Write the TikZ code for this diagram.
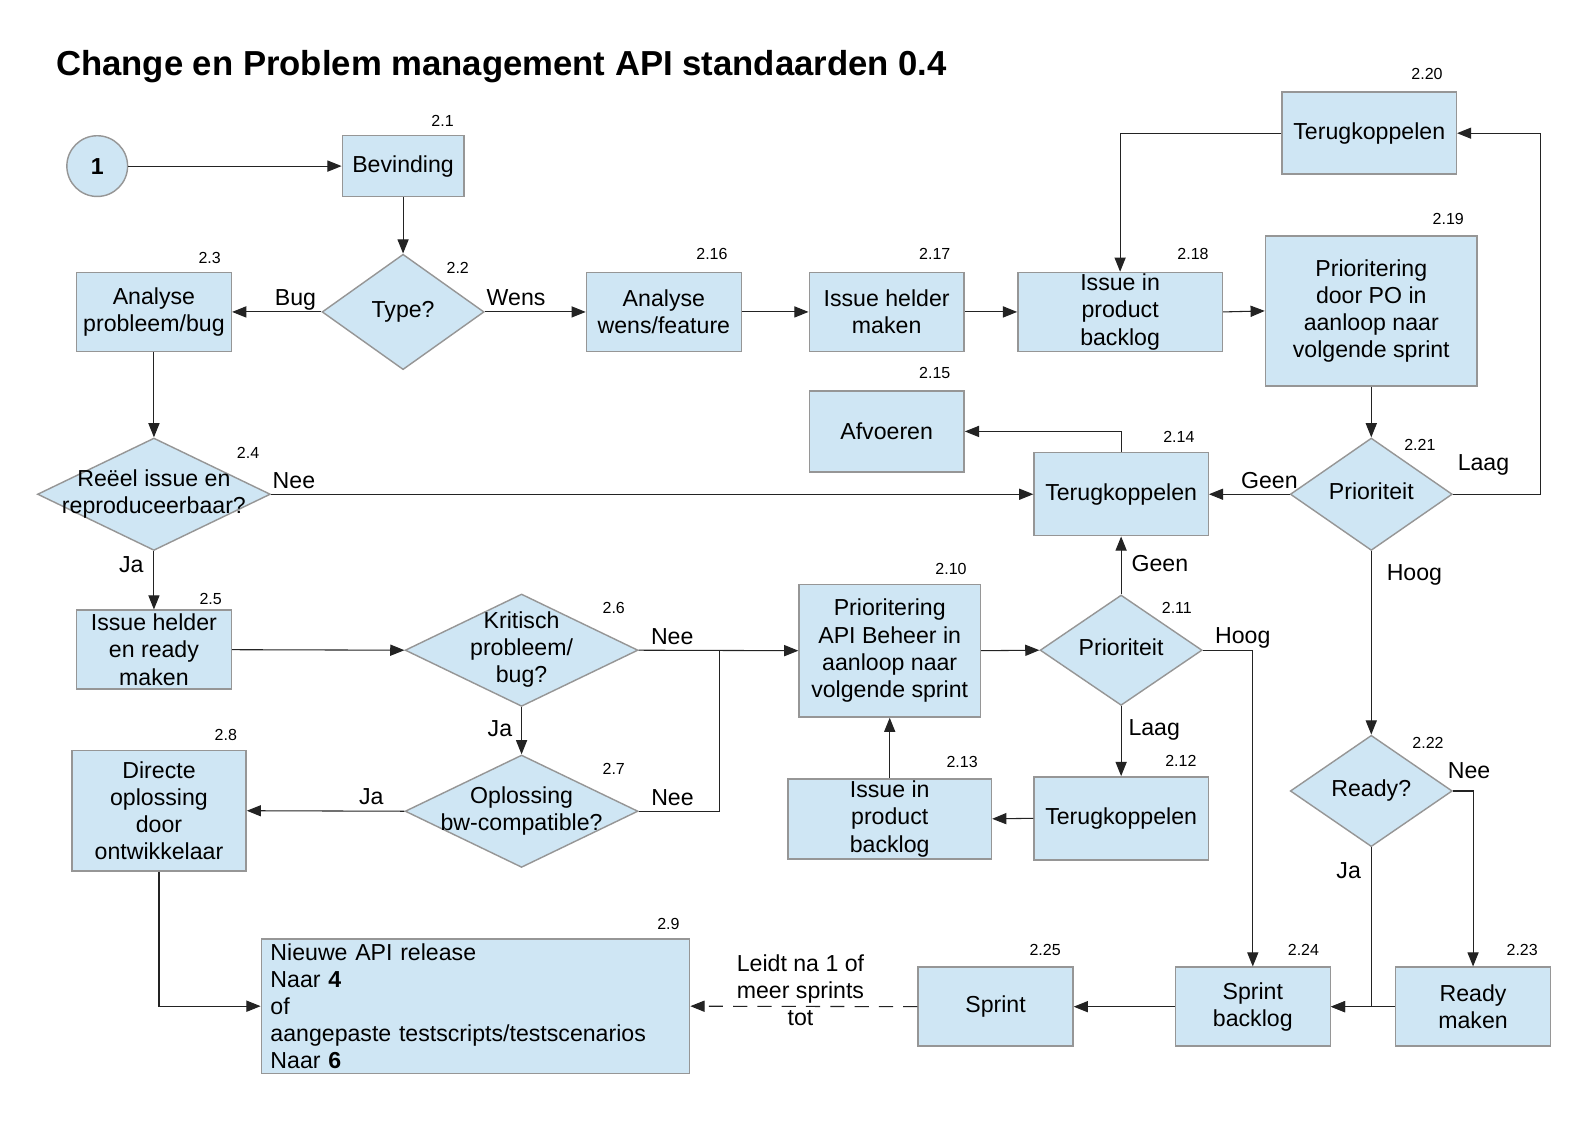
\documentclass[tikz,border=0pt]{standalone}
\usepackage{fontspec}
\setmainfont{Liberation Sans}
\usetikzlibrary{arrows.meta, shapes.geometric}
\definecolor{stepfill}{RGB}{207, 230, 244}
\definecolor{stepline}{RGB}{150, 150, 150}
\definecolor{flowline}{RGB}{35, 35, 35}
\newcommand{\dectext}[1]{\makebox[0pt]{\begin{tabular}{@{}c@{}}#1\end{tabular}}}

\begin{document}
\begin{tikzpicture}[x=0.02cm, y=-0.02cm,
    every node/.style={font=\fontsize{13}{15.3}\selectfont},
    arrow/.style={-{Triangle[length=0.28cm, width=0.22cm]}, line width=0.6pt, draw=flowline},
    line/.style={line width=0.6pt, draw=flowline},
    procbox/.style={rectangle, draw=stepline, fill=stepfill, line width=0.8pt,
        inner sep=0pt, align=center, minimum width=3.06cm, minimum height=1.56cm},
    fbbox/.style={procbox, minimum width=3.44cm, minimum height=1.64cm},
    decision/.style={diamond, draw=stepline, fill=stepfill, line width=0.8pt,
        inner sep=0pt, minimum width=4.6cm, minimum height=2.22cm},
    smalldec/.style={decision, minimum width=3.2cm, minimum height=2.2cm},
    startnode/.style={circle, draw=stepline, fill=stepfill, line width=0.8pt,
        minimum size=1.2cm, inner sep=0pt, font=\fontsize{13}{15}\selectfont\bfseries},
    num/.style={font=\fontsize{9}{10}\selectfont, inner sep=0pt},
    lbl/.style={inner sep=1pt, text depth=0.22em}
]
\useasboundingbox (0,0) rectangle (1568,1109);

% === Title ===
\node[anchor=base west, inner sep=0pt, font=\fontsize{19.5}{23}\selectfont\bfseries] (title) at (55,75)
    {Change en Problem management API standaarden 0.4};

% === Bug branch (left) ===
\node[startnode] (start) at (96,164) {1};
\node[procbox, minimum width=2.4cm, minimum height=1.2cm] (bev) at (398,164) {Bevinding};
\node[smalldec, minimum height=2.28cm] (type) at (398,308) {\dectext{Type?}};
\node[procbox] (ana3) at (152,308) {Analyse\\probleem/bug};
\node[decision] (reel) at (152,488) {\dectext{Reëel issue en\\reproduceerbaar?}};
\node[procbox] (ir5) at (152,641.5) {Issue helder\\en ready\\maken};
\node[decision] (krit) at (515,642) {\dectext{Kritisch\\probleem/\\bug?}};
\node[decision] (opl) at (515,801) {\dectext{Oplossing\\bw-compatible?}};
\node[procbox, minimum width=3.44cm, minimum height=2.38cm] (dir8) at (157,800.5)
    {Directe\\oplossing\\door\\ontwikkelaar};
\node[procbox, minimum width=8.46cm, minimum height=2.66cm, text width=8.1cm,
    align=left, inner xsep=0.18cm] (rel9) at (469.5,993.5)
    {Nieuwe API release\\Naar \textbf{4}\\of\\aangepaste testscripts/testscenarios\\Naar \textbf{6}};

% === API Beheer ===
\node[procbox, minimum width=3.58cm, minimum height=2.62cm] (p10) at (878.5,642.5)
    {Prioritering\\API Beheer in\\aanloop naar\\volgende sprint};
\node[smalldec, minimum height=2.18cm] (p11) at (1107,642) {\dectext{Prioriteit}};
\node[fbbox] (fb12) at (1107,808) {Terugkoppelen};
\node[procbox, minimum width=4.02cm, minimum height=1.58cm] (ib13) at (878.5,808.5)
    {Issue in\\product\\backlog};
\node[fbbox] (fb14) at (1107,488) {Terugkoppelen};
\node[procbox, minimum height=1.6cm] (afv15) at (875.5,426) {Afvoeren};

% === Wens branch (top) ===
\node[procbox] (wens16) at (655.5,308) {Analyse\\wens/feature};
\node[procbox] (ihm17) at (875.5,308) {Issue helder\\maken};
\node[procbox, minimum width=4.04cm] (ib18) at (1106,308) {Issue in\\product\\backlog};
\node[procbox, minimum width=4.18cm, minimum height=2.96cm] (po19) at (1354,307)
    {Prioritering\\door PO in\\aanloop naar\\volgende sprint};
\node[fbbox, minimum height=1.62cm] (fb20) at (1352,131.5) {Terugkoppelen};
\node[smalldec, minimum height=2.22cm] (p21) at (1354,488) {\dectext{Prioriteit}};
\node[smalldec] (ready) at (1354,781) {\dectext{Ready?}};

% === Sprint ===
\node[procbox] (rm23) at (1454.5,994) {Ready\\maken};
\node[procbox] (sb24) at (1237,994) {Sprint\\backlog};
\node[procbox] (spr25) at (983,994) {Sprint};

% === Step numbers ===
\foreach \t/\x/\y [count=\i] in {2.1/437/119, 2.2/452/265, 2.3/207/255, 2.4/245/447,
    2.5/208/591, 2.6/606/600, 2.7/606/759, 2.8/223/726, 2.9/660/912, 2.10/939/562,
    2.11/1162/600, 2.12/1166/751, 2.13/950/752, 2.14/1164/431, 2.15/923/368,
    2.16/703/251, 2.17/923/251, 2.18/1178/251, 2.19/1430/216, 2.20/1409/73,
    2.21/1402/439, 2.22/1410/734, 2.23/1503/938, 2.24/1287/938, 2.25/1032/938}
    \node[num] (num\i) at (\x,\y) {\t};

% === Arrows: bug branch ===
\draw[arrow] (start) -- (bev);
\draw[arrow] (bev.south) -- (type.north);
\draw[arrow] (type.west) -- node[lbl, above, pos=0.29] {Bug} (ana3.east);
\draw[arrow] (ana3.south) -- (reel.north);
\draw[arrow] (reel.east) -- node[lbl, above, pos=0.03] {Nee} (fb14.west);
\draw[arrow] (reel.south) -- node[lbl, left, pos=0.26, xshift=-0.16cm] {Ja} (ir5.north);
\draw[arrow] (ir5.east) -- (krit.west);
\draw[arrow] (krit.east) -- node[lbl, above, pos=0.21] {Nee} (p10.west);
\draw[arrow] (krit.south) -- node[lbl, left, pos=0.5, xshift=-0.14cm] {Ja} (opl.north);
\coordinate (join) at (710,642);
\draw[line] (opl.east) -| node[lbl, above, pos=0.21] {Nee} (join);
\draw[arrow] (opl.west) -- node[lbl, above, pos=0.21] {Ja} (dir8.east);
\draw[arrow] (dir8.south) |- (rel9.west);

% === Arrows: API Beheer ===
\draw[arrow] (p10.east) -- (p11.west);
\draw[arrow] (p11.north) -- node[lbl, right, pos=0.5, xshift=0.16cm] {Geen} (fb14.south);
\draw[arrow] (p11.south) -- node[lbl, right, pos=0.33, xshift=0.1cm] {Laag} (fb12.north);
\draw[arrow] (p11.east) -| node[lbl, above, pos=0.4] {Hoog} (sb24.north);
\draw[arrow] (fb12.west) -- (ib13.east);
\draw[arrow] (ib13.north) -- (p10.south);
\draw[arrow] (fb14.north) |- (afv15.east);

% === Arrows: wens branch ===
\draw[arrow] (type.east) -- node[lbl, above, pos=0.31] {Wens} (wens16.west);
\draw[arrow] (wens16.east) -- (ihm17.west);
\draw[arrow] (ihm17.east) -- (ib18.west);
\draw[arrow] (ib18.east) -- (po19.west);
\draw[arrow] (po19.south) -- (p21.north);
\draw[arrow] (p21.east) -- node[lbl, above, pos=0.35, yshift=0.34cm] {Laag} ++(86,0) |- (fb20.east);
\draw[arrow] (fb20.west) -| (ib18.north);
\draw[arrow] (p21.west) -- node[lbl, above, pos=0.25] {Geen} (fb14.east);
\draw[arrow] (p21.south) -- node[lbl, right, pos=0.13, xshift=0.26cm] {Hoog} (ready.north);

% === Arrows: sprint ===
\draw[arrow] (ready.east) -| node[lbl, above, pos=0.25, xshift=0.12cm, yshift=0.12cm] {Nee} (rm23.north);
\draw[arrow] (ready.south) |- node[lbl, left, pos=0.08, xshift=-0.16cm] {Ja} (sb24.east);
\draw[arrow] (rm23.west) -- (sb24.east);
\draw[arrow] (sb24.west) -- (spr25.east);
\draw[arrow, dash pattern=on 0.28cm off 0.2cm] (spr25.west) --
    node[lbl, pos=0.515, yshift=0.28cm, align=center] {Leidt na 1 of\\meer sprints\\tot} (rel9.east);

\end{tikzpicture}
\end{document}
